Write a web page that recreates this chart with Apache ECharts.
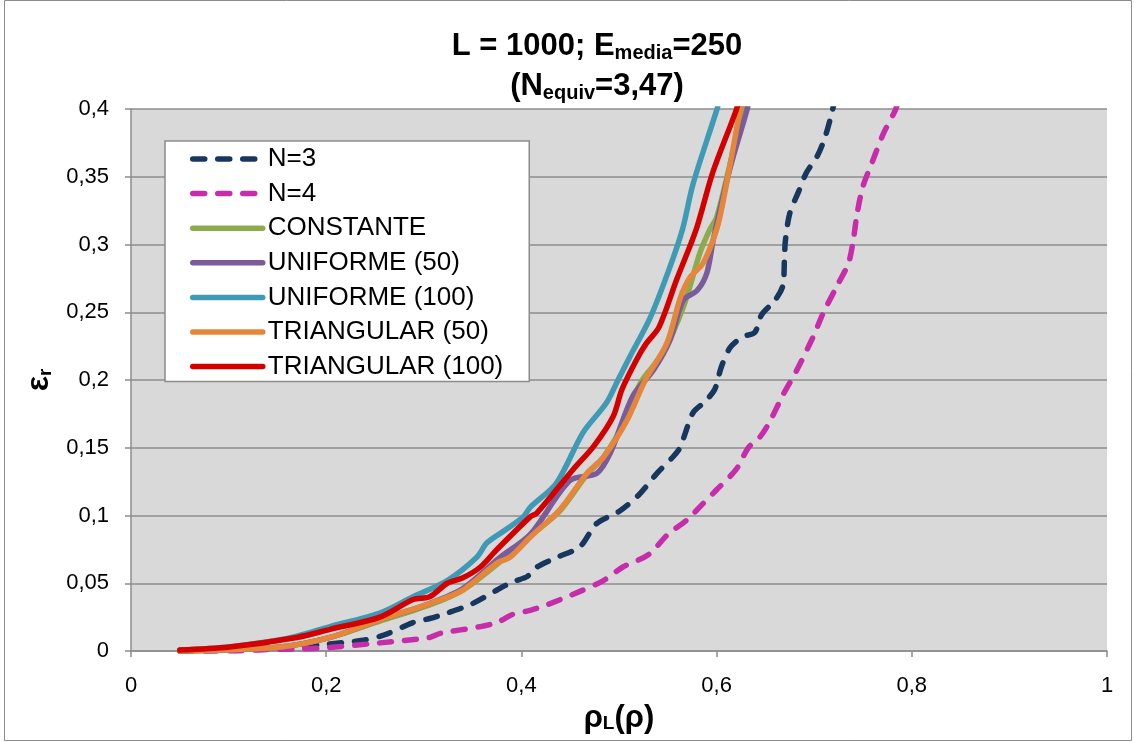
<!DOCTYPE html>
<html><head><meta charset="utf-8">
<script src="https://cdn.jsdelivr.net/npm/echarts@6/dist/echarts.min.js"></script>
<style>html,body{margin:0;padding:0;background:#fff}#c{width:1134px;height:742px}</style>
</head><body><div id="c"></div>
<script>
const seriesNames = ['N=3','N=4','CONSTANTE','UNIFORME (50)','UNIFORME (100)','TRIANGULAR (50)','TRIANGULAR (100)'];
const seriesColors = ['#17375E','#C72DAA','#8DAA4C','#7A5C9A','#3F9AB5','#E5863B','#D40000'];
const seriesDashed = [true,true,false,false,false,false,false];

const n3 = [[0.05,0],[0.10,0.0005],[0.15,0.002],[0.20,0.005],[0.238,0.008],[0.26,0.012],[0.289,0.021],[0.306,0.024],[0.324,0.028],[0.35,0.035],[0.375,0.045],[0.391,0.051],[0.406,0.055],[0.416,0.062],[0.436,0.069],[0.46,0.077],[0.477,0.094],[0.50,0.103],[0.52,0.115],[0.54,0.132],[0.555,0.143],[0.5625,0.150],[0.568,0.161],[0.576,0.176],[0.588,0.184],[0.598,0.193],[0.605,0.210],[0.614,0.224],[0.627,0.232],[0.639,0.235],[0.646,0.248],[0.660,0.259],[0.668,0.270],[0.6695,0.289],[0.6705,0.303],[0.675,0.323],[0.684,0.339],[0.692,0.353],[0.703,0.365],[0.711,0.379],[0.718,0.397],[0.722,0.41]];
const n4 = [[0.05,0],[0.10,0],[0.135,0.001],[0.19,0.002],[0.255,0.006],[0.306,0.010],[0.317,0.013],[0.358,0.018],[0.375,0.021],[0.391,0.027],[0.409,0.030],[0.426,0.034],[0.46,0.044],[0.484,0.052],[0.504,0.062],[0.53,0.071],[0.55,0.086],[0.57,0.097],[0.585,0.108],[0.60,0.119],[0.62,0.134],[0.6325,0.150],[0.6445,0.158],[0.655,0.170],[0.668,0.189],[0.682,0.207],[0.699,0.232],[0.709,0.249],[0.723,0.269],[0.735,0.286],[0.740,0.303],[0.744,0.323],[0.750,0.343],[0.759,0.360],[0.771,0.382],[0.783,0.399],[0.788,0.41]];
const constante = [[0.05,0],[0.153,0.003],[0.204,0.010],[0.255,0.022],[0.306,0.034],[0.34,0.045],[0.375,0.064],[0.409,0.085],[0.439,0.103],[0.467,0.130],[0.484,0.143],[0.508,0.172],[0.522,0.198],[0.545,0.220],[0.566,0.254],[0.583,0.294],[0.593,0.311],[0.600,0.320],[0.614,0.360],[0.627,0.399],[0.630,0.41]];
const uniforme50 = [[0.05,0],[0.153,0.003],[0.204,0.010],[0.255,0.023],[0.306,0.035],[0.34,0.046],[0.378,0.069],[0.409,0.086],[0.450,0.126],[0.477,0.131],[0.491,0.146],[0.514,0.188],[0.535,0.207],[0.552,0.229],[0.566,0.259],[0.580,0.266],[0.590,0.279],[0.597,0.305],[0.614,0.357],[0.631,0.399],[0.634,0.41]];
const uniforme100 = [[0.05,0.0007],[0.10,0.003],[0.15,0.008],[0.17,0.011],[0.204,0.018],[0.255,0.028],[0.289,0.040],[0.324,0.052],[0.354,0.069],[0.365,0.080],[0.385,0.090],[0.402,0.099],[0.409,0.106],[0.436,0.124],[0.463,0.161],[0.487,0.183],[0.499,0.200],[0.511,0.217],[0.532,0.246],[0.552,0.283],[0.565,0.311],[0.576,0.345],[0.600,0.399],[0.604,0.41]];
const triangular50 = [[0.05,0],[0.153,0.003],[0.204,0.010],[0.255,0.023],[0.306,0.035],[0.34,0.045],[0.375,0.065],[0.388,0.069],[0.409,0.084],[0.439,0.104],[0.467,0.131],[0.484,0.143],[0.508,0.170],[0.527,0.200],[0.549,0.227],[0.563,0.261],[0.573,0.276],[0.586,0.286],[0.600,0.311],[0.607,0.333],[0.624,0.399],[0.627,0.41]];
const triangular100 = [[0.05,0.0007],[0.101,0.003],[0.17,0.010],[0.204,0.016],[0.255,0.025],[0.289,0.038],[0.306,0.040],[0.324,0.050],[0.34,0.054],[0.358,0.062],[0.375,0.075],[0.409,0.099],[0.416,0.102],[0.453,0.134],[0.474,0.151],[0.494,0.173],[0.503,0.193],[0.518,0.215],[0.528,0.227],[0.541,0.239],[0.559,0.274],[0.579,0.311],[0.596,0.353],[0.620,0.399],[0.624,0.41]];
const allData = [n3,n4,constante,uniforme50,uniforme100,triangular50,triangular100];

const xMin = 0, xMax = 1, xStep = 0.2;
const yMin = 0, yMax = 0.4, yStep = 0.05;

const FONT = 'Liberation Sans';
const fmt = v => String(+v.toFixed(2)).replace('.', ',');
const LW = 5.5;
const DASH = [12, 13];

const chart = echarts.init(document.getElementById('c'), null, {renderer:'canvas'});
chart.setOption({
  animation: false,
  backgroundColor: '#fff',
  graphic: [
    {type:'rect', shape:{x:4.5,y:0.5,width:1127,height:740}, style:{fill:'none', stroke:'#8c8c8c', lineWidth:1}, silent:true, z:-10},
    {type:'text', x:597, y:26, style:{
      text:'{b|L = 1000; E}{s|media}{b|=250}\n{b|(N}{s|equiv}{b|=3,47)}',
      align:'center', verticalAlign:'top',
      rich:{
        b:{fontFamily:FONT, fontWeight:'bold', fontSize:31, lineHeight:40, fill:'#000', color:'#000'},
        s:{fontFamily:FONT, fontWeight:'bold', fontSize:20, lineHeight:40, padding:[14,0,0,0], fill:'#000', color:'#000'}
      }
    }, silent:true}
  ],
  grid: {left:131, right:27, top:109, bottom:91, show:true, backgroundColor:'#D9D9D9', borderWidth:0},
  legend: {
    orient:'vertical', left:165, top:141, itemWidth:70, itemHeight:20, itemGap:8.6,
    padding:[5,26,2,25], backgroundColor:'#fff', borderColor:'#8c8c8c', borderWidth:1.5,
    selectedMode:false,
    itemStyle:{color:'rgba(0,0,0,0)', borderColor:'rgba(0,0,0,0)', borderWidth:0, opacity:0},
    lineStyle:{width:LW, cap:'round'},
    textStyle:{fontFamily:FONT, fontSize:26, lineHeight:26, color:'#000'},
    data: seriesNames
  },
  xAxis: {
    type:'value', min:xMin, max:xMax, interval:xStep,
    name:'{b|ρ}{s|L}{b|(ρ)}', nameLocation:'middle', nameGap:49,
    nameTextStyle:{rich:{
      b:{fontFamily:FONT, fontWeight:'bold', fontSize:31, color:'#000', lineHeight:36},
      s:{fontFamily:FONT, fontWeight:'bold', fontSize:19, color:'#000', lineHeight:36, padding:[12,0,0,0]}
    }},
    axisLine:{show:true, onZero:false, lineStyle:{color:'#8c8c8c', width:1.5}},
    axisTick:{show:true, inside:false, length:6, lineStyle:{color:'#8c8c8c', width:1.5}},
    splitLine:{show:false},
    axisLabel:{fontFamily:FONT, fontSize:22, color:'#000', margin:24, formatter:fmt}
  },
  yAxis: {
    type:'value', min:yMin, max:yMax, interval:yStep,
    name:'{b|ε}{s|r}', nameLocation:'middle', nameGap:70, nameRotate:90,
    nameTextStyle:{rich:{
      b:{fontFamily:FONT, fontWeight:'bold', fontSize:32, color:'#000', lineHeight:36},
      s:{fontFamily:FONT, fontWeight:'bold', fontSize:19, color:'#000', lineHeight:36, padding:[12,0,0,0]}
    }},
    axisLine:{show:true, onZero:false, lineStyle:{color:'#8c8c8c', width:1.5}},
    axisTick:{show:true, inside:false, length:6, lineStyle:{color:'#8c8c8c', width:1.5}},
    splitLine:{show:true, lineStyle:{color:'#8c8c8c', width:1.5}},
    axisLabel:{fontFamily:FONT, fontSize:22, color:'#000', margin:22, formatter:fmt}
  },
  series: seriesNames.map((name, i) => ({
    name, type:'line', data: allData[i], smooth:0.3, symbol:'none', showSymbol:false, clip:true,
    lineStyle:{color:seriesColors[i], width:LW, type: seriesDashed[i] ? DASH : 'solid', cap:'round', join:'round'},
    itemStyle:{color:seriesColors[i]},
    emphasis:{disabled:true}
  }))
});
</script>
</body></html>
